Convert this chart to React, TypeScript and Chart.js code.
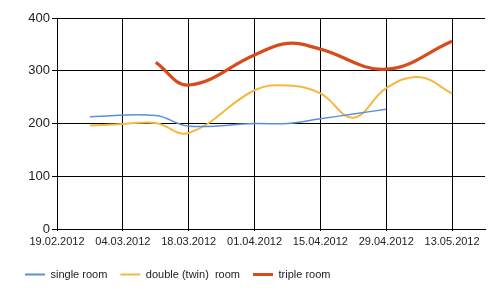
import React, { useEffect, useRef } from "react";
import { Chart, registerables } from "chart.js";

Chart.register(...registerables);

const startDate = "19.02.2012";
const tickStepDays = 14;
const axisEndDays = 91;

const seriesNames = ["single room", "double (twin)  room", "triple room"];
const seriesColors = ["#5a8fdc", "#f4b942", "#d84b1a"];
const seriesWidths = [1.5, 2, 3.2];
const legendWidths = [2, 2, 3];

const singleDates = ["26.02.2012", "11.03.2012", "18.03.2012", "01.04.2012", "08.04.2012", "15.04.2012", "22.04.2012", "29.04.2012"];
const singleValues = [213, 215, 195, 200, 200, 209, 218, 227];

const doubleDates = ["26.02.2012", "04.03.2012", "11.03.2012", "18.03.2012", "01.04.2012", "08.04.2012", "15.04.2012", "22.04.2012", "29.04.2012", "06.05.2012", "13.05.2012"];
const doubleValues = [196, 199, 201, 182, 263, 272, 257, 211, 267, 288, 257];

const tripleDates = ["11.03.2012", "18.03.2012", "01.04.2012", "08.04.2012", "15.04.2012", "29.04.2012", "13.05.2012"];
const tripleValues = [316, 273, 330, 352, 341, 303, 356];

const yTicks = [0, 100, 200, 300, 400];

function parseDate(s: string): number {
  const [d, m, y] = s.split(".").map(Number);
  return Date.UTC(y, m - 1, d);
}
const DAY = 86400000;
const base = parseDate(startDate);
function toDay(s: string): number {
  return Math.round((parseDate(s) - base) / DAY);
}
function formatDay(v: number): string {
  const dt = new Date(base + v * DAY);
  const dd = String(dt.getUTCDate()).padStart(2, "0");
  const mm = String(dt.getUTCMonth() + 1).padStart(2, "0");
  return `${dd}.${mm}.${dt.getUTCFullYear()}`;
}

export default function App() {
  const ref = useRef<HTMLCanvasElement | null>(null);
  useEffect(() => {
    document.body.style.margin = "0";
    if (!ref.current) return;
    const mk = (dates: string[], vals: number[]) => dates.map((d, i) => ({ x: toDay(d), y: vals[i] }));
    const all = [mk(singleDates, singleValues), mk(doubleDates, doubleValues), mk(tripleDates, tripleValues)];
    const font = "Arial, 'Liberation Sans', sans-serif";
    const chart = new Chart(ref.current, {
      type: "line",
      data: {
        datasets: all.map((d, i) => ({
          label: seriesNames[i],
          data: d,
          borderColor: seriesColors[i],
          backgroundColor: seriesColors[i],
          borderWidth: seriesWidths[i],
          pointRadius: 0,
          tension: 0.4,
          fill: false,
        })),
      },
      options: {
        animation: false,
        responsive: false,
        layout: { padding: { left: 12, right: 15, top: 18, bottom: 6 } },
        plugins: {
          tooltip: { enabled: false },
          legend: {
            position: "bottom",
            align: "start",
            labels: {
              usePointStyle: true,
              pointStyleWidth: 20,
              padding: 13,
              color: "#222",
              font: { family: font, size: 11 },
              generateLabels: (c: any) =>
                (Chart.defaults.plugins.legend.labels.generateLabels as any)(c).map((l: any, i: number) => ({
                  ...l,
                  pointStyle: "line",
                  lineWidth: legendWidths[i],
                  strokeStyle: seriesColors[i],
                })),
            },
          },
        },
        scales: {
          x: {
            type: "linear",
            min: 0,
            max: axisEndDays,
            afterFit: (s: any) => {
              s.height = 27;
            },
            ticks: {
              stepSize: tickStepDays,
              includeBounds: false,
              autoSkip: false,
              maxRotation: 0,
              padding: 4,
              color: "#222",
              font: { family: font, size: 11 },
              callback: (v: any) => formatDay(Number(v)),
            },
            grid: { color: "#000", tickLength: 2 },
            border: { color: "#000" },
          },
          y: {
            min: 0,
            max: 400,
            afterFit: (s: any) => {
              s.width = 45;
            },
            afterBuildTicks: (s: any) => {
              s.ticks = yTicks.map((v) => ({ value: v }));
            },
            ticks: {
              padding: 2,
              color: "#222",
              font: { family: font, size: 13 },
            },
            grid: { color: "#000", tickLength: 5 },
            border: { color: "#000" },
          },
        },
      },
    } as any);
    return () => chart.destroy();
  }, []);
  return <canvas ref={ref} width={500} height={296} />;
}
